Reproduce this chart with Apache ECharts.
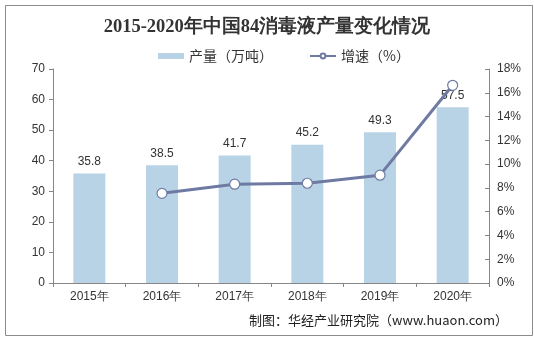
<!DOCTYPE html>
<html><head><meta charset="utf-8">
<script src="https://cdn.jsdelivr.net/npm/echarts@6/dist/echarts.min.js"></script>
<style>html,body{margin:0;padding:0;background:#fff}#c{width:534px;height:337px}</style>
</head><body><div id="c"></div>
<script>
var categories = ['2015年','2016年','2017年','2018年','2019年','2020年'];
var production = [35.8, 38.5, 41.7, 45.2, 49.3, 57.5];
var growth = [null, 7.54, 8.31, 8.39, 9.07, 16.63];
var leftTicks = {min: 0, max: 70, interval: 10};
var rightTicks = {min: 0, max: 18, interval: 2};

var chart = echarts.init(document.getElementById('c'));
var axisCol = '#868686';
var txt = '#333333';
chart.setOption({
  animation: false,
  backgroundColor: '#fff',
  title: {
    text: '2015-2020年中国84消毒液产量变化情况',
    left: 'center', top: 13,
    textStyle: {fontFamily: '"Liberation Serif","Times New Roman",serif', fontWeight: 'bold', fontSize: 18.5, color: '#333'}
  },
  legend: {
    top: 44, left: 153, itemGap: 36, itemWidth: 26, itemHeight: 6,
    textStyle: {fontSize: 14, color: '#333', fontFamily: '"Noto Sans CJK SC",sans-serif'},
    data: [
      {name: '产量（万吨）', icon: 'rect'},
      {name: '增速（%）'}
    ]
  },
  grid: {left: 53, right: 45, top: 69, bottom: 54},
  xAxis: {
    type: 'category', data: categories, boundaryGap: true,
    axisLine: {lineStyle: {color: axisCol}},
    axisTick: {show: true, alignWithLabel: false, length: 4, lineStyle: {color: axisCol}},
    axisLabel: {color: txt, fontSize: 12, fontFamily: 'Arial, "Liberation Sans", sans-serif', margin: 8}
  },
  yAxis: [
    {type: 'value', min: leftTicks.min, max: leftTicks.max, interval: leftTicks.interval,
     axisLine: {show: true, lineStyle: {color: axisCol}},
     axisTick: {show: true, length: 4, lineStyle: {color: axisCol}},
     splitLine: {show: false},
     axisLabel: {color: txt, fontSize: 12, fontFamily: 'Arial, "Liberation Sans", sans-serif', margin: 8}},
    {type: 'value', min: rightTicks.min, max: rightTicks.max, interval: rightTicks.interval, position: 'right',
     axisLine: {show: true, lineStyle: {color: axisCol}},
     axisTick: {show: true, inside: true, length: 4, lineStyle: {color: axisCol}},
     splitLine: {show: false},
     axisLabel: {color: txt, fontSize: 12, fontFamily: 'Arial, "Liberation Sans", sans-serif', margin: 8, formatter: '{value}%'}}
  ],
  series: [
    {name: '产量（万吨）', type: 'bar', data: production, barWidth: '44%', yAxisIndex: 0,
     itemStyle: {color: '#B8D3E6'},
     label: {show: true, position: 'top', distance: 6, color: txt, fontSize: 12, fontFamily: 'Arial, "Liberation Sans", sans-serif'}},
    {name: '增速（%）', type: 'line', data: growth, yAxisIndex: 1,
     symbol: 'circle', symbolSize: 10, connectNulls: false,
     lineStyle: {color: '#6F7AA3', width: 3},
     itemStyle: {color: '#fff', borderColor: '#6F7AA3', borderWidth: 1.2}}
  ],
  graphic: [
    {type: 'rect', left: 3, top: 3, shape: {width: 527, height: 330},
     style: {fill: 'none', stroke: '#8c8c8c', lineWidth: 1}, z: 100},
    {type: 'text', right: 26, top: 314,
     style: {text: '制图：华经产业研究院（www.huaon.com）', fill: '#222', fontSize: 13, fontFamily: '"Noto Sans CJK SC",sans-serif'}}
  ]
});
</script></body></html>
